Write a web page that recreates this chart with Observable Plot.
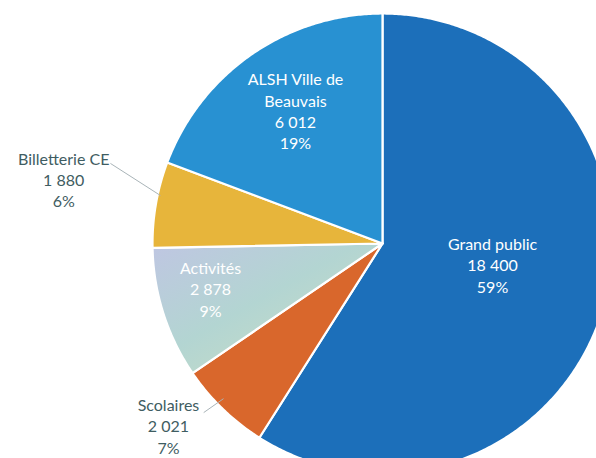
<!DOCTYPE html>
<html>
<head>
<meta charset="utf-8">
<script src="https://cdn.jsdelivr.net/npm/d3@7"></script>
<script src="https://cdn.jsdelivr.net/npm/@observablehq/plot@0.6"></script>
<style>
  html, body { margin: 0; padding: 0; background: #ffffff; }
  #chart { width: 596px; height: 458px; overflow: hidden; }
</style>
</head>
<body>
<div id="chart"></div>
<script>
// ---- Data ----
const categories = ["Grand public", "Scolaires", "Activités", "Billetterie CE", "ALSH Ville de\nBeauvais"];
const values = [18400, 2021, 2878, 1880, 6012];
const percentLabels = ["59%", "7%", "9%", "6%", "19%"];

// ---- Styles / layout ----
const colors = ["#1c6fba", "#d9672c", "#c4d4da", "#e7b53b", "#2891d2"];
const insideLabel = [true, false, true, false, true];
// label placement: angle (deg, clockwise from 12 o'clock) and radius (fraction of pie radius)
const labelAngle = [100.8, 229.6, 255.3, 281.4, 326.8];
const labelRadius = [0.487, 1.222, 0.773, 1.414, 0.691];
// leader lines for outside labels: [angle, radius] start -> end
const leaders = [
  {a1: 226.6, r1: 1.07, a2: 225.7, r2: 0.966},
  {a1: 286.4, r1: 1.233, a2: 282.2, r2: 0.988}
];

const W = 596, H = 458, CX = 382, CY = 243, R = 230;

const fmt = d3.formatLocale({decimal: ",", thousands: " ", grouping: [3], currency: ["", " €"]}).format(",d");

const pie = d3.pie().sort(null).value(d => d.value)(
  categories.map((c, i) => ({name: c, value: values[i], i}))
);

// Slice outlines as polygons in unit-circle coordinates
const slicePts = [];
pie.forEach(s => {
  const key = categories[s.data.i];
  slicePts.push({key, x: 0, y: 0});
  const n = Math.max(2, Math.ceil((s.endAngle - s.startAngle) / (Math.PI / 360)));
  for (let k = 0; k <= n; k++) {
    const a = s.startAngle + (s.endAngle - s.startAngle) * k / n;
    slicePts.push({key, x: Math.sin(a), y: Math.cos(a)});
  }
  slicePts.push({key, x: 0, y: 0});
});

const rad = d => d * Math.PI / 180;
const labels = categories.map((c, i) => ({
  text: `${c}\n${fmt(values[i])}\n${percentLabels[i]}`,
  x: labelRadius[i] * Math.sin(rad(labelAngle[i])),
  y: labelRadius[i] * Math.cos(rad(labelAngle[i])),
  inside: insideLabel[i]
}));
const leaderLines = leaders.map(l => ({
  x1: l.r1 * Math.sin(rad(l.a1)), y1: l.r1 * Math.cos(rad(l.a1)),
  x2: l.r2 * Math.sin(rad(l.a2)), y2: l.r2 * Math.cos(rad(l.a2))
}));

const chart = Plot.plot({
  width: W, height: H,
  margin: 0,
  style: {background: "#ffffff", fontFamily: "Lato, 'Open Sans', sans-serif"},
  x: {domain: [-CX / R, (W - CX) / R], range: [0, W], axis: null},
  y: {domain: [-(H - CY) / R, CY / R], range: [H, 0], axis: null},
  color: {domain: categories, range: colors},
  marks: [
    Plot.line(slicePts, {x: "x", y: "y", z: "key", fill: "key", stroke: "#ffffff", strokeWidth: 2.2, strokeLinejoin: "round", curve: "linear"}),
    Plot.link(leaderLines, {x1: "x1", y1: "y1", x2: "x2", y2: "y2", stroke: "#a9b4b8", strokeWidth: 1}),
    Plot.text(labels.filter(d => d.inside), {x: "x", y: "y", text: "text", fill: "#ffffff", fontSize: 16, lineHeight: 1.33}),
    Plot.text(labels.filter(d => !d.inside), {x: "x", y: "y", text: "text", fill: "#3f5d62", fontSize: 16, lineHeight: 1.33})
  ]
});

// Soft pastel gradient for the "Activités" slice
const svg = d3.select(chart);
const defs = svg.insert("defs", ":first-child");
const g = defs.append("linearGradient").attr("id", "actGrad")
  .attr("x1", "0%").attr("y1", "0%").attr("x2", "100%").attr("y2", "100%");
g.append("stop").attr("offset", "0%").attr("stop-color", "#bfc6e2");
g.append("stop").attr("offset", "45%").attr("stop-color", "#b3d5d2");
g.append("stop").attr("offset", "100%").attr("stop-color", "#cfe0c2");
svg.selectAll("path").filter(function () {
  return (this.getAttribute("fill") || "").toLowerCase() === colors[2];
}).attr("fill", "url(#actGrad)");

document.getElementById("chart").appendChild(chart);
</script>
</body>
</html>
